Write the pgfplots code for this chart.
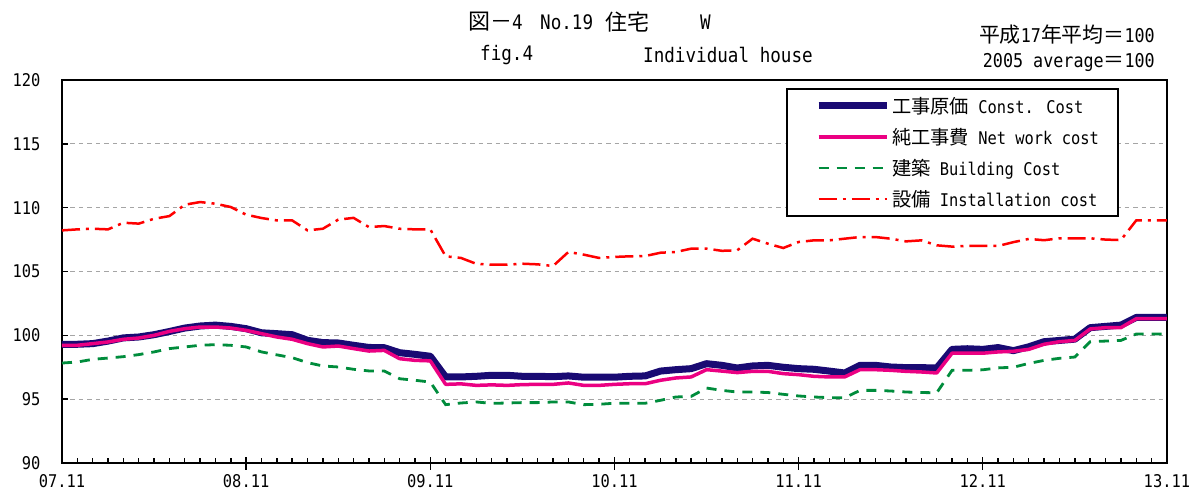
\documentclass[border=0pt]{standalone}
\usepackage{pgfplots}
\pgfplotsset{compat=1.18}
\usepackage{pgfplotstable}
\usepackage{fontspec}
\setmainfont[FakeStretch=0.88]{DejaVu Sans Mono}
\newfontfamily\jp[Scale=1.1]{Noto Sans CJK JP}
\definecolor{cnavy}{RGB}{25,10,115}
\definecolor{cpink}{RGB}{235,0,130}
\definecolor{cgreen}{RGB}{0,140,60}
\definecolor{cred}{RGB}{255,0,0}
\definecolor{cgrid}{RGB}{165,165,165}

\pgfplotstableread{
m c n b i
0 99.30 99.22 97.83 108.22
1 99.30 99.22 97.91 108.30
2 99.35 99.35 98.12 108.35
3 99.55 99.48 98.22 108.30
4 99.80 99.69 98.33 108.82
5 99.87 99.79 98.49 108.75
6 100.05 100.00 98.70 109.13
7 100.30 100.31 98.96 109.34
8 100.57 100.52 99.09 110.23
9 100.73 100.65 99.22 110.44
10 100.80 100.65 99.27 110.31
11 100.70 100.57 99.22 110.05
12 100.52 100.39 99.09 109.45
13 100.20 100.13 98.70 109.19
14 100.13 99.87 98.47 109.00
15 100.05 99.69 98.25 109.00
16 99.61 99.35 97.86 108.22
17 99.43 99.09 97.60 108.35
18 99.40 99.16 97.52 109.06
19 99.22 98.96 97.34 109.20
20 99.05 98.77 97.21 108.48
21 99.03 98.82 97.21 108.56
22 98.64 98.17 96.60 108.35
23 98.51 98.04 96.48 108.30
24 98.36 98.00 96.34 108.30
25 96.74 96.16 94.57 106.19
26 96.74 96.20 94.70 106.06
27 96.79 96.08 94.78 105.60
28 96.87 96.12 94.67 105.53
29 96.87 96.08 94.70 105.53
30 96.79 96.14 94.73 105.61
31 96.79 96.16 94.73 105.56
32 96.76 96.16 94.78 105.43
33 96.82 96.27 94.78 106.53
34 96.72 96.08 94.57 106.32
35 96.72 96.08 94.60 106.06
36 96.72 96.16 94.68 106.14
37 96.79 96.21 94.68 106.19
38 96.82 96.21 94.68 106.21
39 97.20 96.48 94.91 106.47
40 97.31 96.66 95.17 106.53
41 97.39 96.74 95.22 106.79
42 97.78 97.31 95.87 106.79
43 97.65 97.20 95.69 106.62
44 97.44 97.08 95.56 106.66
45 97.60 97.18 95.56 107.57
46 97.65 97.18 95.52 107.18
47 97.50 97.00 95.38 106.84
48 97.39 96.92 95.25 107.31
49 97.34 96.79 95.17 107.44
50 97.20 96.74 95.12 107.44
51 97.05 96.74 95.10 107.57
52 97.65 97.31 95.69 107.70
53 97.65 97.31 95.69 107.70
54 97.52 97.26 95.64 107.57
55 97.47 97.18 95.56 107.36
56 97.47 97.13 95.52 107.44
57 97.44 97.05 95.50 107.05
58 98.90 98.60 97.26 106.95
59 98.95 98.60 97.26 107.00
60 98.90 98.60 97.30 107.00
61 99.04 98.70 97.45 107.00
62 98.80 98.75 97.50 107.30
63 99.10 98.90 97.80 107.55
64 99.50 99.30 98.04 107.45
65 99.60 99.50 98.20 107.60
66 99.70 99.60 98.30 107.60
67 100.60 100.50 99.50 107.60
68 100.70 100.60 99.55 107.50
69 100.80 100.60 99.60 107.46
70 101.40 101.30 100.10 109.00
71 101.40 101.30 100.10 109.00
72 101.40 101.30 100.10 109.00
}\data

\begin{document}
\begin{tikzpicture}
\begin{axis}[
  at={(0pt,0pt)}, anchor=south west,
  scale only axis, width=1105pt, height=383pt,
  xmin=0, xmax=72, ymin=90, ymax=120,
  xtick={0,12,...,72},
  xticklabels={07.11,08.11,09.11,10.11,11.11,12.11,13.11},
  minor x tick num=11,
  ytick={90,95,...,120},
  xtick pos=bottom, ytick pos=left,
  tick align=inside,
  major tick length=6pt, minor tick length=5pt,
  every tick/.style={black, line width=1.4pt},
  extra x ticks={12,24,...,60},
  extra x tick labels={},
  extra x tick style={tick align=outside, major tick length=7pt},
  axis line style={black, line width=2.2pt},
  ymajorgrids,
  major grid style={cgrid, line width=1.3pt, dash pattern=on 4.5pt off 4pt},
  /pgf/number format/assume math mode=true,
  tick label style={font=\fontsize{17.5}{18}\selectfont},
  y tick label style={xshift=-18pt},
  x tick label style={yshift=-8pt},
  legend style={at={(rel axis cs:0.6555,0.979)}, anchor=north west,
    draw=black, line width=1.6pt, fill=white,
    font=\fontsize{17.5}{19}\selectfont,
    inner xsep=17pt, inner ysep=6pt, row sep=9.5pt},
  legend cell align=left,
  legend image code/.code={\path (0pt,0pt); \draw[#1] (11pt,0pt) -- (79pt,0pt);},
]
\addplot[cnavy, line width=7pt, line join=round] table[x=m,y=c]{\data};
\addlegendentry{{\jp 工事原価} Const. Cost}
\addplot[cpink, line width=3.5pt, line join=round] table[x=m,y=n]{\data};
\addlegendentry{{\jp 純工事費} Net work cost}
\addplot[cgreen, line width=2.8pt, dash pattern=on 10pt off 8pt] table[x=m,y=b]{\data};
\addlegendentry{{\jp 建築} Building Cost}
\addplot[cred, line width=2.5pt, dash pattern=on 18pt off 6pt on 3pt off 6pt] table[x=m,y=i]{\data};
\addlegendentry{{\jp 設備} Installation cost}
\end{axis}
\begin{scope}[every node/.style={inner sep=0pt, font=\fontsize{20}{22}\selectfont}]
\node[anchor=west] at (406pt,441pt) {{\jp 図－}4};
\node[anchor=west] at (478pt,441pt) {No.19};
\node[anchor=west] at (543pt,441pt) {\jp 住宅};
\node[anchor=west] at (638pt,441pt) {W};
\node[anchor=west] at (418pt,408pt) {fig.4};
\node[anchor=west] at (581pt,408pt) {Individual house};
\end{scope}
\begin{scope}[every node/.style={inner sep=0pt, font=\fontsize{19}{21}\selectfont}]
\node[anchor=east] at (1093pt,428pt) {{\jp 平成}17{\jp 年平均＝}100};
\node[anchor=east] at (1093pt,401pt) {2005 average{\jp ＝}100};
\end{scope}
\pgfresetboundingbox
\path (-62pt,-29pt) rectangle (1129pt,463pt);
\end{tikzpicture}
\end{document}
